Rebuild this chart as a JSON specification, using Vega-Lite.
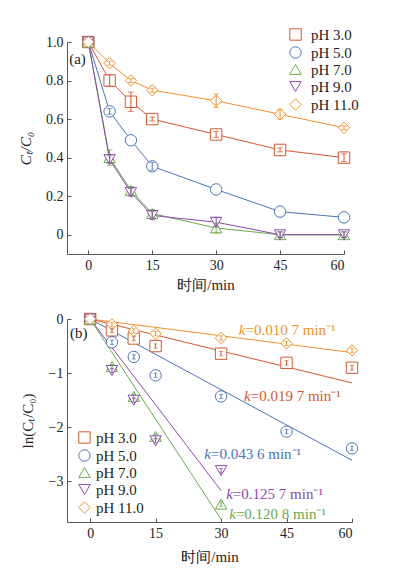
{
"$schema": "https://vega.github.io/schema/vega-lite/v6.json",
"padding": {"left": 18, "top": 27, "right": 5, "bottom": 5},
"spacing": 19,
"datasets": {
"a": [
{"s":"pH 3.0","t":0,"v":1.0,"err":0},{"s":"pH 3.0","t":5,"v":0.80,"err":0.03},{"s":"pH 3.0","t":10,"v":0.69,"err":0.05},{"s":"pH 3.0","t":15,"v":0.60,"err":0.01},{"s":"pH 3.0","t":30,"v":0.52,"err":0.015},{"s":"pH 3.0","t":45,"v":0.44,"err":0.01},{"s":"pH 3.0","t":60,"v":0.40,"err":0.02},
{"s":"pH 5.0","t":0,"v":1.0,"err":0},{"s":"pH 5.0","t":5,"v":0.64,"err":0.015},{"s":"pH 5.0","t":10,"v":0.49,"err":0},{"s":"pH 5.0","t":15,"v":0.355,"err":0.02},{"s":"pH 5.0","t":30,"v":0.235,"err":0},{"s":"pH 5.0","t":45,"v":0.12,"err":0},{"s":"pH 5.0","t":60,"v":0.09,"err":0},
{"s":"pH 7.0","t":0,"v":1.0,"err":0},{"s":"pH 7.0","t":5,"v":0.40,"err":0.04},{"s":"pH 7.0","t":10,"v":0.23,"err":0.02},{"s":"pH 7.0","t":15,"v":0.11,"err":0.02},{"s":"pH 7.0","t":30,"v":0.035,"err":0.025},{"s":"pH 7.0","t":45,"v":0.0,"err":0.015},{"s":"pH 7.0","t":60,"v":0.0,"err":0.015},
{"s":"pH 9.0","t":0,"v":1.0,"err":0},{"s":"pH 9.0","t":5,"v":0.39,"err":0.02},{"s":"pH 9.0","t":10,"v":0.22,"err":0.02},{"s":"pH 9.0","t":15,"v":0.10,"err":0.02},{"s":"pH 9.0","t":30,"v":0.065,"err":0.025},{"s":"pH 9.0","t":45,"v":0.0,"err":0.015},{"s":"pH 9.0","t":60,"v":0.0,"err":0.015},
{"s":"pH 11.0","t":0,"v":1.0,"err":0},{"s":"pH 11.0","t":5,"v":0.89,"err":0.01},{"s":"pH 11.0","t":10,"v":0.80,"err":0.01},{"s":"pH 11.0","t":15,"v":0.75,"err":0.01},{"s":"pH 11.0","t":30,"v":0.695,"err":0.035},{"s":"pH 11.0","t":45,"v":0.625,"err":0.025},{"s":"pH 11.0","t":60,"v":0.555,"err":0.01}
],
"b": [
{"s":"pH 3.0","t":0,"v":0,"err":0},{"s":"pH 3.0","t":5,"v":-0.21,"err":0.04},{"s":"pH 3.0","t":10,"v":-0.36,"err":0.04},{"s":"pH 3.0","t":15,"v":-0.50,"err":0.04},{"s":"pH 3.0","t":30,"v":-0.64,"err":0.04},{"s":"pH 3.0","t":45,"v":-0.81,"err":0.04},{"s":"pH 3.0","t":60,"v":-0.90,"err":0.04},
{"s":"pH 5.0","t":0,"v":0,"err":0},{"s":"pH 5.0","t":5,"v":-0.43,"err":0.04},{"s":"pH 5.0","t":10,"v":-0.70,"err":0.04},{"s":"pH 5.0","t":15,"v":-1.04,"err":0.04},{"s":"pH 5.0","t":30,"v":-1.43,"err":0.04},{"s":"pH 5.0","t":45,"v":-2.08,"err":0.04},{"s":"pH 5.0","t":60,"v":-2.39,"err":0.04},
{"s":"pH 7.0","t":0,"v":0,"err":0},{"s":"pH 7.0","t":5,"v":-0.88,"err":0.04},{"s":"pH 7.0","t":10,"v":-1.43,"err":0.04},{"s":"pH 7.0","t":15,"v":-2.17,"err":0.04},{"s":"pH 7.0","t":30,"v":-3.42,"err":0.04},
{"s":"pH 9.0","t":0,"v":0,"err":0},{"s":"pH 9.0","t":5,"v":-0.95,"err":0.04},{"s":"pH 9.0","t":10,"v":-1.50,"err":0.04},{"s":"pH 9.0","t":15,"v":-2.25,"err":0.04},{"s":"pH 9.0","t":30,"v":-2.80,"err":0.04},
{"s":"pH 11.0","t":0,"v":0,"err":0},{"s":"pH 11.0","t":5,"v":-0.10,"err":0.04},{"s":"pH 11.0","t":10,"v":-0.22,"err":0.04},{"s":"pH 11.0","t":15,"v":-0.27,"err":0.04},{"s":"pH 11.0","t":30,"v":-0.35,"err":0.04},{"s":"pH 11.0","t":45,"v":-0.45,"err":0.04},{"s":"pH 11.0","t":60,"v":-0.58,"err":0.04}
],
"fit": [
{"s":"pH 3.0","t":0,"v":0},{"s":"pH 3.0","t":60,"v":-1.18},
{"s":"pH 5.0","t":0,"v":0},{"s":"pH 5.0","t":60,"v":-2.61},
{"s":"pH 7.0","t":0,"v":0},{"s":"pH 7.0","t":30,"v":-3.70},
{"s":"pH 9.0","t":0,"v":0},{"s":"pH 9.0","t":30,"v":-3.17},
{"s":"pH 11.0","t":0,"v":0},{"s":"pH 11.0","t":60,"v":-0.62}
],
"ann": [
{"s":"pH 11.0","t":35.6,"v":-0.20,"label":"=0.010 7 min⁻¹"},
{"s":"pH 3.0","t":36.8,"v":-1.42,"label":"=0.019 7 min⁻¹"},
{"s":"pH 5.0","t":27.7,"v":-2.50,"label":"=0.043 6 min⁻¹"},
{"s":"pH 9.0","t":32.7,"v":-3.24,"label":"=0.125 7 min⁻¹"},
{"s":"pH 7.0","t":33.4,"v":-3.61,"label":"=0.120 8 min⁻¹"}
]
},
"resolve": {"scale": {"color": "independent", "shape": "independent"}, "legend": {"color": "independent", "shape": "independent"}},
"vconcat": [
{
"width": 277, "height": 212,
"resolve": {"legend": {"color": "independent", "shape": "independent"}},
"layer": [
{"data": {"name": "a"}, "mark": {"type": "line", "strokeWidth": 1},
 "encoding": {
  "x": {"field": "t", "type": "quantitative", "title": "时间/min", "scale": {"domain": [-5, 60], "nice": false, "zero": false}, "axis": {"values": [0, 15, 30, 45, 60], "titleBaseline": "middle", "titleY": 30}},
  "y": {"field": "v", "type": "quantitative", "title": "Cₜ/C₀", "scale": {"domain": [-0.1, 1.0], "nice": false, "zero": false}, "axis": {"values": [0, 0.2, 0.4, 0.6, 0.8, 1.0], "labelExpr": "datum.value == 0 ? '0' : format(datum.value, '.1f')", "titleFontStyle": "italic", "titleBaseline": "middle", "titleX": -42}},
  "color": {"field": "s", "type": "nominal", "scale": {"domain": ["pH 3.0", "pH 5.0", "pH 7.0", "pH 9.0", "pH 11.0"], "range": ["#d4582f", "#4a74b2", "#6aaa4a", "#8a4aa8", "#f0902a"]}, "legend": null}
 }},
{"data": {"name": "a"}, "mark": {"type": "point", "filled": false, "fill": "white", "size": 130, "strokeWidth": 1, "opacity": 1},
 "encoding": {
  "x": {"field": "t", "type": "quantitative", "title": "时间/min"},
  "y": {"field": "v", "type": "quantitative", "title": "Cₜ/C₀"},
  "color": {"field": "s", "type": "nominal", "legend": {"title": null, "orient": "none", "legendX": 221, "legendY": -15, "symbolSize": 130, "symbolStrokeWidth": 1, "labelFontSize": 15, "labelOffset": 8, "rowPadding": 1, "padding": 0}},
  "shape": {"field": "s", "type": "nominal", "scale": {"domain": ["pH 3.0", "pH 5.0", "pH 7.0", "pH 9.0", "pH 11.0"], "range": ["square", "circle", "triangle-up", "triangle-down", "diamond"]}, "legend": {"title": null, "orient": "none", "legendX": 221, "legendY": -15, "symbolSize": 130, "symbolStrokeWidth": 1, "labelFontSize": 15, "labelOffset": 8, "rowPadding": 1, "padding": 0}}
 }},
{"data": {"name": "a"}, "transform": [{"filter": "datum.err > 0"}], "mark": {"type": "errorbar", "ticks": {"size": 6}, "thickness": 1},
 "encoding": {
  "x": {"field": "t", "type": "quantitative", "title": "时间/min"},
  "y": {"field": "v", "type": "quantitative", "title": "Cₜ/C₀"},
  "yError": {"field": "err"},
  "color": {"field": "s", "type": "nominal", "legend": null}
 }},
{"data": {"values": [{"t": -4.5, "v": 0.91, "label": "(a)"}]}, "mark": {"type": "text", "align": "left", "baseline": "middle", "fontSize": 15, "color": "#222"},
 "encoding": {"x": {"field": "t", "type": "quantitative", "title": "时间/min"}, "y": {"field": "v", "type": "quantitative", "title": "Cₜ/C₀"}, "text": {"field": "label"}}}
]
},
{
"width": 285, "height": 203,
"resolve": {"legend": {"color": "independent", "shape": "independent"}},
"layer": [
{"data": {"name": "fit"}, "mark": {"type": "line", "strokeWidth": 1},
 "encoding": {
  "x": {"field": "t", "type": "quantitative", "title": "时间/min", "scale": {"domain": [-5.3, 60], "nice": false, "zero": false}, "axis": {"values": [0, 15, 30, 45, 60], "titleBaseline": "middle", "titleY": 34}},
  "y": {"field": "v", "type": "quantitative", "title": "ln(Cₜ/C₀)", "scale": {"domain": [-3.75, 0], "nice": false, "zero": false}, "axis": {"values": [0, -1, -2, -3], "format": "d", "titleBaseline": "middle", "titleX": -40}},
  "color": {"field": "s", "type": "nominal", "scale": {"domain": ["pH 3.0", "pH 5.0", "pH 7.0", "pH 9.0", "pH 11.0"], "range": ["#d4582f", "#4a74b2", "#6aaa4a", "#8a4aa8", "#f0902a"]}, "legend": null}
 }},
{"data": {"name": "b"}, "mark": {"type": "point", "filled": false, "fill": "white", "size": 130, "strokeWidth": 1, "opacity": 1},
 "encoding": {
  "x": {"field": "t", "type": "quantitative", "title": "时间/min"},
  "y": {"field": "v", "type": "quantitative", "title": "ln(Cₜ/C₀)"},
  "color": {"field": "s", "type": "nominal", "legend": {"title": null, "orient": "none", "legendX": 10, "legendY": 111, "symbolSize": 130, "symbolStrokeWidth": 1, "labelFontSize": 15, "labelOffset": 4, "rowPadding": 1, "padding": 0}},
  "shape": {"field": "s", "type": "nominal", "scale": {"domain": ["pH 3.0", "pH 5.0", "pH 7.0", "pH 9.0", "pH 11.0"], "range": ["square", "circle", "triangle-up", "triangle-down", "diamond"]}, "legend": {"title": null, "orient": "none", "legendX": 10, "legendY": 111, "symbolSize": 130, "symbolStrokeWidth": 1, "labelFontSize": 15, "labelOffset": 4, "rowPadding": 1, "padding": 0}}
 }},
{"data": {"name": "b"}, "transform": [{"filter": "datum.err > 0"}], "mark": {"type": "errorbar", "ticks": {"size": 4}, "thickness": 1},
 "encoding": {
  "x": {"field": "t", "type": "quantitative", "title": "时间/min"},
  "y": {"field": "v", "type": "quantitative", "title": "ln(Cₜ/C₀)"},
  "yError": {"field": "err"},
  "color": {"field": "s", "type": "nominal", "legend": null}
 }},
{"data": {"name": "ann"}, "mark": {"type": "text", "align": "right", "baseline": "middle", "fontSize": 15, "fontStyle": "italic", "text": "k"},
 "encoding": {"x": {"field": "t", "type": "quantitative", "title": "时间/min"}, "y": {"field": "v", "type": "quantitative", "title": "ln(Cₜ/C₀)"}, "color": {"field": "s", "type": "nominal", "legend": null}}},
{"data": {"name": "ann"}, "mark": {"type": "text", "align": "left", "baseline": "middle", "fontSize": 15},
 "encoding": {"x": {"field": "t", "type": "quantitative", "title": "时间/min"}, "y": {"field": "v", "type": "quantitative", "title": "ln(Cₜ/C₀)"}, "text": {"field": "label"}, "color": {"field": "s", "type": "nominal", "legend": null}}},
{"data": {"values": [{"t": -4.6, "v": -0.26, "label": "(b)"}]}, "mark": {"type": "text", "align": "left", "baseline": "middle", "fontSize": 15, "color": "#222"},
 "encoding": {"x": {"field": "t", "type": "quantitative", "title": "时间/min"}, "y": {"field": "v", "type": "quantitative", "title": "ln(Cₜ/C₀)"}, "text": {"field": "label"}}}
]
}
],
"config": {
"font": "Liberation Serif, Times New Roman, serif",
"view": {"stroke": null},
"text": {"font": "Liberation Serif, Times New Roman, serif"},
"axis": {"grid": false, "domainColor": "#555", "tickColor": "#555", "tickSize": -4, "labelPadding": 8, "labelFontSize": 14, "labelColor": "#222", "labelFont": "Liberation Serif, Times New Roman, serif", "titleFontSize": 15, "titleFontWeight": "normal", "titleColor": "#222", "titleFont": "Liberation Serif, Times New Roman, serif"},
"legend": {"labelFont": "Liberation Serif, Times New Roman, serif", "labelColor": "#222"}
}
}
